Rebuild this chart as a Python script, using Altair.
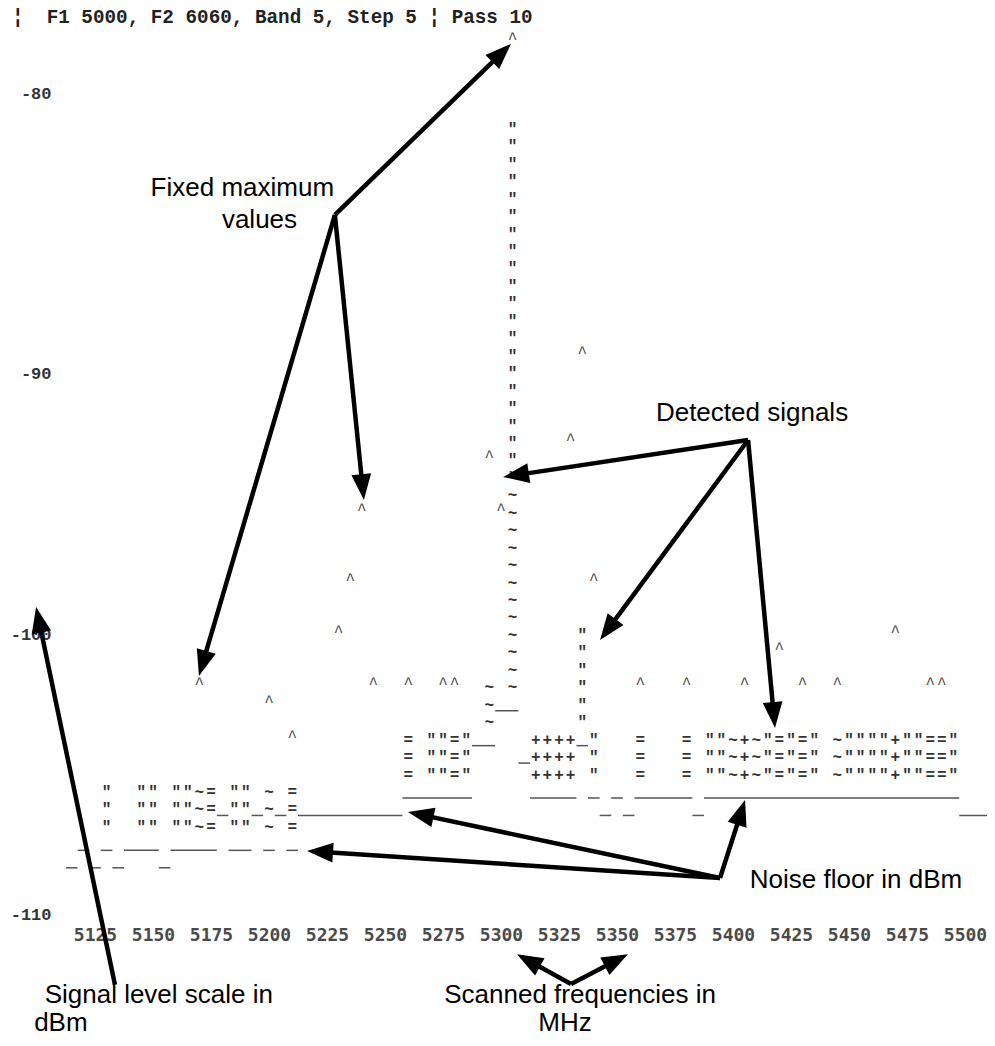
import math
import altair as alt
import pandas as pd

# ---------------- screen geometry (layout constants) ----------------
STEP = 5.0            # MHz per screen column ("Step 5")
PX_PER_MHZ = 2.32     # horizontal pixels per MHz
PX_PER_ROW = 17.45    # vertical pixels per screen row
PLOT_W, PLOT_H = 979, 1030
X_DOMAIN = [5087.5, 5125 + (PLOT_W - 87) / PX_PER_MHZ]
Y_DOMAIN = [-0.928, (PLOT_H - 16.2) / PX_PER_ROW]

# ---------------- texts / ticks ----------------
header_text = "¦\u00a0 F1 5000, F2 6060, Band 5, Step 5 ¦ Pass 10"
header_freq = 5089.2
header_row = -0.41

x_ticks = [5125, 5150, 5175, 5200, 5225, 5250, 5275, 5300, 5325, 5350,
           5375, 5400, 5425, 5450, 5475, 5500]
y_tick_rows = [4, 20, 35, 51]
y_tick_labels = ["-80", "-90", "-100", "-110"]

# ---------------- fixed maximum markers "^" (MHz, screen row) ----------------
max_freq = [5305, 5335, 5330, 5295, 5300, 5240, 5235, 5340, 5230, 5470,
            5420, 5170, 5245, 5260, 5275, 5280, 5360, 5380, 5405, 5430,
            5445, 5485, 5490, 5200, 5210]
max_row = [1, 19, 24, 25, 28, 28, 32, 32, 35, 35,
           36, 38, 38, 38, 38, 38, 38, 38, 38, 38,
           38, 38, 38, 39, 41]

# ---------------- vertical signal traces ----------------
trace_freq = [5305, 5305, 5295, 5335]
trace_first = [6, 27, 38, 35]
trace_last = [26, 38, 40, 40]
trace_char = ['"', '~', '~', '"']

# ---------------- detected signal rows ----------------
signal_rows = [41, 42, 43]
signal_start = [5260, 5260, 5260]
signal_text = [
    '= ""="__   ++++_"   =   = ""~+~"="=" ~""""+""=="',
    '= ""="    _++++ "   =   = ""~+~"="=" ~""""+""=="',
    '= ""="     ++++ "   =   = ""~+~"="=" ~""""+""=="',
]

# ---------------- left low band rows ----------------
left_rows = [44, 45, 46]
left_start = [5130, 5130, 5130]
left_text = [
    '"  "" ""~= "" ~ =',
    '"  "" ""~=_""_~_=',
    '"  "" ""~= "" ~ =',
]

# ---------------- noise floor rows ----------------
floor_rows = [39, 44, 45, 47, 48]
floor_start = [5300, 5260, 5215, 5120, 5115]
floor_text = [
    '__',
    '______' + '     ' + '____' + ' _ _ ' + '_____' + ' ' + '______________________',
    '_________' + '                 ' + '_ _' + '     ' + '_' + '                      ' + '___',
    '_ _ ___ ____ __ _ _',
    '_ _ _   _',
]

# ---------------- annotations (data coordinates) ----------------
ann_text = ["Fixed maximum", "values", "Detected signals", "Noise floor in dBm",
            "Signal level scale in", "dBm", "Scanned frequencies in", "MHz"]
ann_freq = [5188.5, 5195.9, 5408.2, 5453.0, 5152.5, 5110.3, 5334.1, 5327.6]
ann_row = [9.39, 11.22, 22.28, 49.04, 55.63, 57.24, 55.63, 57.24]

arrow_from_f = [5228.4, 5228.4, 5228.4, 5406.5, 5406.5, 5406.5,
                5394.4, 5394.4, 5394.4, 5133.6, 5330.2, 5330.2]
arrow_from_r = [10.93, 10.93, 10.93, 23.83, 23.83, 23.83,
                48.93, 48.93, 48.93, 55.05, 55.0, 55.0]
arrow_to_f = [5304.3, 5169.8, 5240.9, 5300.9, 5342.7, 5418.1,
              5259.9, 5405.2, 5216.4, 5099.6, 5306.9, 5354.7]
arrow_to_r = [1.13, 37.35, 27.27, 25.95, 35.29, 40.33,
              45.15, 44.46, 47.38, 33.40, 53.30, 53.30]


# ---------------- build tables ----------------
def parse(rows, starts, texts, cells, runs):
    for r, f0, t in zip(rows, starts, texts):
        i = 0
        while i < len(t):
            ch = t[i]
            if ch == '_':
                j = i
                while j + 1 < len(t) and t[j + 1] == '_':
                    j += 1
                runs.append({"freq": f0 + STEP * i - STEP / 2,
                             "freq2": f0 + STEP * j + STEP / 2, "row": r})
                i = j + 1
                continue
            if ch != ' ':
                cells.append({"freq": f0 + STEP * i, "row": r, "ch": ch})
            i += 1


cells, runs = [], []
for f, a, b, c in zip(trace_freq, trace_first, trace_last, trace_char):
    for r in range(a, b + 1):
        cells.append({"freq": f, "row": r, "ch": c})
parse(signal_rows, signal_start, signal_text, cells, runs)
parse(left_rows, left_start, left_text, cells, runs)
parse(floor_rows, floor_start, floor_text, cells, runs)

cells_df = pd.DataFrame(cells)
runs_df = pd.DataFrame(runs)
max_df = pd.DataFrame({"freq": max_freq, "row": max_row, "ch": ["^"] * len(max_freq)})
ann_df = pd.DataFrame({"freq": ann_freq, "row": ann_row, "label": ann_text})
head_df = pd.DataFrame({"freq": [header_freq], "row": [header_row], "label": [header_text]})

shafts, heads = [], []
for f1, r1, f2, r2 in zip(arrow_from_f, arrow_from_r, arrow_to_f, arrow_to_r):
    dx = (f2 - f1) * PX_PER_MHZ
    dy = (r2 - r1) * PX_PER_ROW
    L = math.hypot(dx, dy)
    ux, uy = dx / L, dy / L
    back = 16.0
    shafts.append({"freq": f1, "row": r1,
                   "freq2": f2 - back * ux / PX_PER_MHZ,
                   "row2": r2 - back * uy / PX_PER_ROW})
    ang = math.degrees(math.atan2(dx, -dy)) % 360
    heads.append({"freq": f2, "row": r2, "angle": ang})
shaft_df = pd.DataFrame(shafts)
arrowhead_df = pd.DataFrame(heads)

# ---------------- scales / axes ----------------
xs = alt.Scale(domain=X_DOMAIN, nice=False, zero=False)
ys = alt.Scale(domain=Y_DOMAIN, nice=False, zero=False, reverse=True)

label_expr = " : ".join(
    f"datum.value == {r} ? '{t}'" for r, t in zip(y_tick_rows, y_tick_labels)
) + " : ''"

x_axis = alt.Axis(values=x_ticks, format="d", title=None, domain=False, ticks=False,
                  tickSize=0, grid=False, labelPadding=0, offset=-(PLOT_H - 927),
                  labelBaseline="middle", labelFont="DejaVu Sans Mono",
                  labelFontWeight="bold", labelFontSize=18, labelColor="#4a4a4a",
                  labelFlush=False, labelOverlap=False)
y_axis = alt.Axis(values=y_tick_rows, labelExpr=label_expr, title=None, domain=False,
                  ticks=False, tickSize=0, grid=False, labelPadding=0, offset=-43,
                  labelAlign="right", labelBaseline="middle", labelFont="Liberation Mono",
                  labelFontWeight="bold", labelFontSize=17, labelColor="#333333",
                  labelFlush=False, labelOverlap=False)

X = alt.X("freq:Q", scale=xs, axis=x_axis)
Y = alt.Y("row:Q", scale=ys, axis=y_axis)

chars = alt.Chart(cells_df).mark_text(
    font="Liberation Mono", fontSize=16, fontWeight="bold", color="#333333",
    align="center", baseline="middle"
).encode(x=X, y=Y, text="ch:N")

maxes = alt.Chart(max_df).mark_text(
    font="Liberation Mono", fontSize=16, fontWeight="normal", color="#444444",
    align="center", baseline="middle", dy=-3
).encode(x=X, y=Y, text="ch:N")

lines = alt.Chart(runs_df).mark_rule(strokeWidth=1.5, color="#555555", yOffset=6).encode(
    x=X, x2="freq2:Q", y=Y)

shaft = alt.Chart(shaft_df).mark_rule(strokeWidth=4.5, color="black", strokeCap="butt").encode(
    x=X, x2="freq2:Q", y=Y, y2="row2:Q")

heads_l = alt.Chart(arrowhead_df).mark_point(
    shape="M0,0L0.38,1L-0.38,1Z", filled=True, size=2704, color="black",
    opacity=1, strokeWidth=0
).encode(x=X, y=Y, angle=alt.Angle("angle:Q", scale=None))

ann = alt.Chart(ann_df).mark_text(
    font="Liberation Sans", fontSize=26, color="black", align="center", baseline="middle"
).encode(x=X, y=Y, text="label:N")

head = alt.Chart(head_df).mark_text(
    font="Liberation Mono", fontSize=19.3, fontWeight="bold", color="#222222",
    align="left", baseline="middle"
).encode(x=X, y=Y, text="label:N")

chart = alt.layer(lines, chars, maxes, shaft, heads_l, ann, head).properties(
    width=PLOT_W, height=PLOT_H,
    autosize=alt.AutoSizeParams(type="none"),
    padding=0,
    background="white",
).configure_view(stroke=None)

chart.save("out.html", embed_options={"renderer": "svg", "actions": False})
